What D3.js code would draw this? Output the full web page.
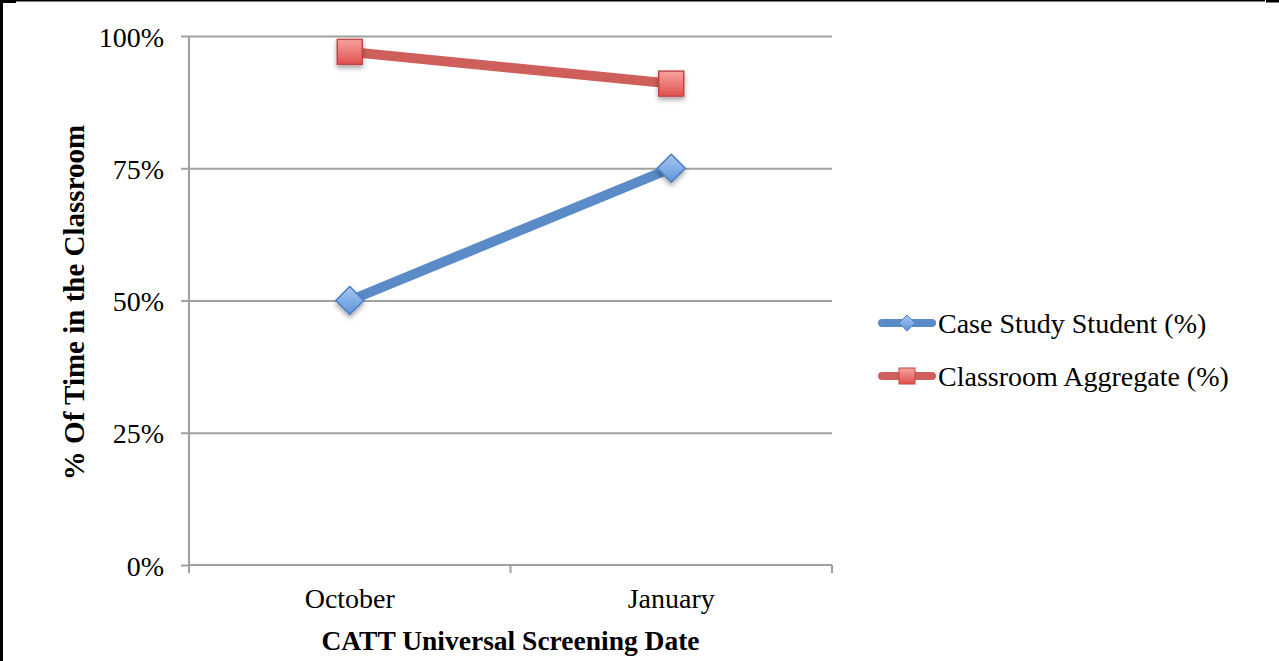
<!DOCTYPE html>
<html>
<head>
<meta charset="utf-8">
<script src="https://cdn.jsdelivr.net/npm/d3@7"></script>
<style>
  html, body { margin: 0; padding: 0; background: #fff; }
  svg { display: block; }
  text { font-family: "Liberation Serif", "Times New Roman", serif; fill: #000; }
</style>
</head>
<body>
<svg id="chart" width="1279" height="661"></svg>
<script>
// Screening dates on the x axis
const categories = ["October", "January"];
// Percent of time spent in the classroom
const caseStudyStudent = [50, 75];
const classroomAggregate = [97, 91];
// y axis ticks
const yTicks = [0, 25, 50, 75, 100];
const seriesNames = ["Case Study Student (%)", "Classroom Aggregate (%)"];

const svg = d3.select("#chart");
const W = 1279, H = 661;
const plot = { left: 189, right: 832, top: 36, bottom: 565 };

// frame lines
svg.append("rect").attr("x", 0).attr("y", 0).attr("width", 3).attr("height", H).attr("fill", "#000");
svg.append("rect").attr("x", 0).attr("y", 0).attr("width", 1265).attr("height", 1.5).attr("fill", "#000");
svg.append("rect").attr("x", 0).attr("y", 0).attr("width", 16).attr("height", 3).attr("fill", "#000");
svg.append("rect").attr("x", 1266).attr("y", 0).attr("width", 13).attr("height", 2.5).attr("fill", "#000");

const x = d3.scaleBand().domain(categories).range([plot.left, plot.right]);
const y = d3.scaleLinear().domain([0, 100]).range([plot.bottom, plot.top]);

const defs = svg.append("defs");
// marker gradients
const gBlue = defs.append("linearGradient").attr("id", "gBlue").attr("x1", 0).attr("y1", 0).attr("x2", 0).attr("y2", 1);
gBlue.append("stop").attr("offset", "0%").attr("stop-color", "#a9c8f0");
gBlue.append("stop").attr("offset", "100%").attr("stop-color", "#5d95dc");
const gRed = defs.append("linearGradient").attr("id", "gRed").attr("x1", 0).attr("y1", 0).attr("x2", 0).attr("y2", 1);
gRed.append("stop").attr("offset", "0%").attr("stop-color", "#f7a3a1");
gRed.append("stop").attr("offset", "100%").attr("stop-color", "#e0514d");
const shadow = defs.append("filter").attr("id", "shadow").attr("x", "-50%").attr("y", "-50%").attr("width", "200%").attr("height", "200%");
shadow.append("feDropShadow").attr("dx", 0).attr("dy", 3).attr("stdDeviation", 2.5)
  .attr("flood-color", "#000").attr("flood-opacity", 0.35);

// gridlines with left tick stubs
const yAxis = d3.axisLeft(y).tickValues(yTicks).tickSize(8).tickFormat(d => d + "%");
const yG = svg.append("g").attr("transform", `translate(${plot.left},0)`).call(yAxis);
yG.select(".domain").remove();
yG.selectAll(".tick line").attr("stroke", "#a0a0a0").attr("stroke-width", 2);
yG.selectAll(".tick text").attr("font-size", 28).attr("x", -25).attr("dy", null).attr("y", 10)
  .attr("font-family", "Liberation Serif");
yG.selectAll(".tick").filter(d => d > 0).append("line")
  .attr("x1", 0).attr("x2", plot.right - plot.left).attr("stroke", "#a0a0a0").attr("stroke-width", 2);

// vertical axis line
svg.append("line").attr("x1", plot.left).attr("x2", plot.left).attr("y1", plot.top).attr("y2", plot.bottom)
  .attr("stroke", "#a0a0a0").attr("stroke-width", 2);

// x axis with boundary ticks
const xBounds = categories.map(c => x(c)).concat([plot.right]);
const xG = svg.append("g");
xG.append("line").attr("x1", plot.left).attr("x2", plot.right).attr("y1", plot.bottom).attr("y2", plot.bottom)
  .attr("stroke", "#a0a0a0").attr("stroke-width", 2);
xG.selectAll(".xt").data(xBounds).join("line").attr("class", "xt")
  .attr("x1", d => d).attr("x2", d => d).attr("y1", plot.bottom).attr("y2", plot.bottom + 8)
  .attr("stroke", "#a0a0a0").attr("stroke-width", 2);
xG.selectAll(".xl").data(categories).join("text").attr("class", "xl")
  .attr("x", d => x(d) + x.bandwidth() / 2).attr("y", 608)
  .attr("text-anchor", "middle").attr("font-size", 28).text(d => d);

// axis titles
svg.append("text").attr("x", (plot.left + plot.right) / 2).attr("y", 650)
  .attr("text-anchor", "middle").attr("font-size", 27.5).attr("font-weight", "bold")
  .text("CATT Universal Screening Date");
svg.append("text").attr("transform", `translate(84,${(plot.top + plot.bottom) / 2 + 2}) rotate(-90)`)
  .attr("text-anchor", "middle").attr("font-size", 29).attr("font-weight", "bold")
  .text("% Of Time in the Classroom");

const cx = d => x(d) + x.bandwidth() / 2;
const line = d3.line().x(d => cx(d.c)).y(d => y(d.v));
const series = [
  { name: seriesNames[0], values: caseStudyStudent, color: "#5b8bc7", shape: "diamond" },
  { name: seriesNames[1], values: classroomAggregate, color: "#cf5f5b", shape: "square" }
];

function drawMarker(g, shape, px, py) {
  if (shape === "diamond") {
    const r = 14;
    g.append("path").attr("d", `M${px},${py - r}L${px + r},${py}L${px},${py + r}L${px - r},${py}Z`)
      .attr("fill", "url(#gBlue)").attr("stroke", "#4a7fc0").attr("stroke-width", 1.5)
      .attr("stroke-linejoin", "round").attr("filter", "url(#shadow)");
  } else {
    const s = 25;
    g.append("rect").attr("x", px - s / 2).attr("y", py - s / 2).attr("width", s).attr("height", s)
      .attr("fill", "url(#gRed)").attr("stroke", "#c04a46").attr("stroke-width", 1.5)
      .attr("filter", "url(#shadow)");
  }
}

series.forEach(s => {
  const pts = categories.map((c, i) => ({ c, v: s.values[i] }));
  svg.append("path").datum(pts).attr("d", line).attr("fill", "none")
    .attr("stroke", s.color).attr("stroke-width", 10).attr("stroke-linecap", "round");
});
series.forEach(s => {
  const g = svg.append("g");
  categories.forEach((c, i) => drawMarker(g, s.shape, cx(c), y(s.values[i])));
});

// legend
series.forEach((s, i) => {
  const ly = 323 + i * 53;
  const g = svg.append("g");
  g.append("line").attr("x1", 882).attr("x2", 932).attr("y1", ly).attr("y2", ly)
    .attr("stroke", s.color).attr("stroke-width", 8).attr("stroke-linecap", "round");
  if (s.shape === "diamond") {
    const r = 8;
    g.append("path").attr("d", `M907,${ly - r}L${907 + r},${ly}L907,${ly + r}L${907 - r},${ly}Z`)
      .attr("fill", "url(#gBlue)").attr("stroke", "#4a7fc0").attr("stroke-width", 1);
  } else {
    g.append("rect").attr("x", 899).attr("y", ly - 8).attr("width", 16).attr("height", 16)
      .attr("fill", "url(#gRed)").attr("stroke", "#c04a46").attr("stroke-width", 1);
  }
  g.append("text").attr("x", 938).attr("y", ly + 10).attr("font-size", 28).text(s.name);
});
</script>
</body>
</html>
